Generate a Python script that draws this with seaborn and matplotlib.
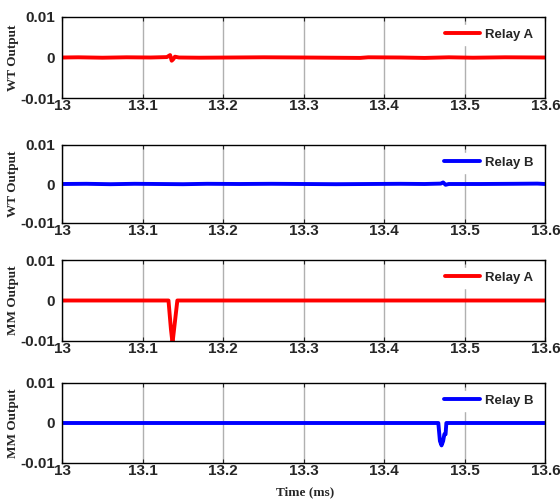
import matplotlib
matplotlib.use("Agg")
import matplotlib.pyplot as plt
import seaborn as sns

# time axis limits and ticks (ms)
x_ticks = [13, 13.1, 13.2, 13.3, 13.4, 13.5, 13.6]
x_tick_labels = ["13", "13.1", "13.2", "13.3", "13.4", "13.5", "13.6"]
y_ticks = [-0.01, 0, 0.01]
y_tick_labels = ["-0.01", "0", "0.01"]

# WT output, relay A
wt_a_t = [13.0, 13.02, 13.05, 13.08, 13.11, 13.13, 13.134, 13.136, 13.138, 13.140,
          13.145, 13.17, 13.21, 13.25, 13.30, 13.37, 13.38, 13.42, 13.45, 13.48,
          13.51, 13.55, 13.6]
wt_a_y = [0, 0.00005, -0.00005, 0.00005, 0, 0.0001, 0.0006, -0.0008, -0.0004, 0.0002,
          0, -0.00005, 0, 0.00005, 0, -0.0001, 0.00005, 0, -0.0001, 0.00005,
          -0.00005, 0.00005, 0]

# WT output, relay B
wt_b_t = [13.0, 13.03, 13.06, 13.09, 13.12, 13.15, 13.18, 13.22, 13.26, 13.30,
          13.34, 13.38, 13.42, 13.45, 13.47, 13.473, 13.476, 13.48, 13.52, 13.56,
          13.59, 13.6]
wt_b_y = [0, 0.00005, -0.00005, 0.00005, 0, -0.00005, 0.00005, 0, 0.00005, 0,
          -0.00005, 0, 0.00005, 0, 0.0001, 0.0004, -0.0002, 0, 0, 0.00005,
          0.0001, 0]

# MM output, relay A
mm_a_t = [13.0, 13.132, 13.135, 13.137, 13.139, 13.143, 13.6]
mm_a_y = [0, 0, -0.007, -0.0105, -0.007, 0, 0]

# MM output, relay B
mm_b_t = [13.0, 13.467, 13.469, 13.471, 13.473, 13.4745, 13.476, 13.477, 13.6]
mm_b_y = [0, 0, -0.0045, -0.0056, -0.0045, -0.0028, -0.0028, 0, 0]

panels = [
    (wt_a_t, wt_a_y, "red", "Relay A", "WT Output"),
    (wt_b_t, wt_b_y, "blue", "Relay B", "WT Output"),
    (mm_a_t, mm_a_y, "red", "Relay A", "MM Output"),
    (mm_b_t, mm_b_y, "blue", "Relay B", "MM Output"),
]

sns.set_style("ticks")
plt.rcParams["font.family"] = ["Liberation Sans", "DejaVu Sans"]

fig = plt.figure(figsize=(5.6, 5.0), dpi=100)
# [left, bottom, width, height] per panel
positions = [
    [0.111, 0.804, 0.863, 0.162],
    [0.111, 0.554, 0.863, 0.156],
    [0.111, 0.318, 0.863, 0.162],
    [0.111, 0.074, 0.863, 0.160],
]

for (t, y, color, label, ylabel), pos in zip(panels, positions):
    ax = fig.add_axes(pos)
    sns.lineplot(x=t, y=y, color=color, linewidth=2.8, label=label, ax=ax)
    ax.set_xlim(13, 13.6)
    ax.set_ylim(-0.01, 0.01)
    ax.set_xticks(x_ticks)
    ax.set_xticklabels(x_tick_labels, fontsize=11, fontweight="bold")
    ax.set_yticks(y_ticks)
    ax.set_yticklabels(y_tick_labels, fontsize=11, fontweight="bold")
    ax.tick_params(direction="in", length=3, top=True, right=True, width=0.8)
    ax.tick_params(axis="x", pad=1)
    ax.tick_params(axis="y", pad=5)
    ax.grid(axis="x", color="#b0b0b0", linewidth=1.0)
    ax.set_axisbelow(True)
    for s in ax.spines.values():
        s.set_linewidth(1.0)
        s.set_color("black")
    ax.set_ylabel(ylabel, fontsize=9.5, fontweight="bold",
                  family=["Liberation Serif", "DejaVu Serif"], labelpad=1)
    ax.set_xlabel("")
    leg = ax.legend(loc="upper right", frameon=True, fontsize=9.5,
                    handlelength=2.7, borderaxespad=0.6, handletextpad=0.4,
                    borderpad=0.3)
    leg.get_frame().set_edgecolor("white")
    leg.get_frame().set_facecolor("white")
    leg.get_frame().set_alpha(1)
    for txt in leg.get_texts():
        txt.set_fontweight("bold")

fig.text(0.545, 0.004, "Time (ms)", ha="center", va="bottom", fontsize=9.5,
         fontweight="bold", family=["Liberation Serif", "DejaVu Serif"])

fig.savefig("out.png", dpi=100)
